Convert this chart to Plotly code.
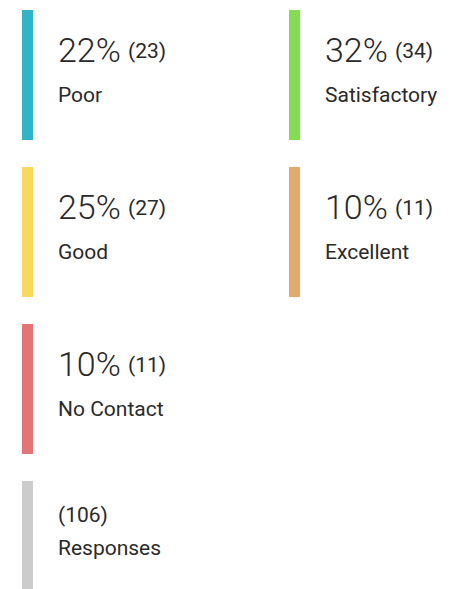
import plotly.graph_objects as go

# ---- data ----
categories = ["Poor", "Satisfactory", "Good", "Excellent", "No Contact"]
percentages = [22, 32, 25, 10, 10]
counts = [23, 34, 27, 11, 11]
colors = ["#31b3c8", "#80de4f", "#f8da5b", "#e6a96c", "#e67474"]
total_label = "Responses"
total_count = 106
total_color = "#cccccc"

# ---- layout constants (page-pixel data units) ----
W, H = 461, 589
PAGE_MARGIN = 8          # default body margin of the page
COL_X = [22, 289]        # left edge of the colour bar per column
ROW_STEP = 157
ROW_TOP0 = 10
BAR_W = 11
BAR_H = 130
TEXT_DX = 34
TEXT_COLOR = "#2a2a2a"
FONT = "Roboto, Arial, sans-serif"

fig = go.Figure()
annotations = []

def cell(i):
    return COL_X[i % 2], ROW_TOP0 + (i // 2) * ROW_STEP

for i, (cat, pct, cnt, col) in enumerate(zip(categories, percentages, counts, colors)):
    x0, top = cell(i)
    fig.add_trace(go.Bar(x=[x0 + BAR_W / 2], y=[BAR_H], base=[top], width=BAR_W,
                         marker=dict(color=col, line=dict(width=0)),
                         hoverinfo="skip", showlegend=False))
    tx = x0 + TEXT_DX
    annotations.append(dict(x=tx, y=top + 40, text=f"{pct}%", xanchor="left", yanchor="middle",
                            font=dict(family=FONT, size=34, color=TEXT_COLOR, weight=300)))
    annotations.append(dict(x=tx + 70, y=top + 41, text=f"({cnt})", xanchor="left", yanchor="middle",
                            font=dict(family=FONT, size=21, color=TEXT_COLOR)))
    annotations.append(dict(x=tx, y=top + 84.5, text=cat, xanchor="left", yanchor="middle",
                            font=dict(family=FONT, size=21, color=TEXT_COLOR)))

# total responses cell: its own row, first column
x0 = COL_X[0]
top = ROW_TOP0 + ((len(categories) + 1) // 2) * ROW_STEP
fig.add_trace(go.Bar(x=[x0 + BAR_W / 2], y=[BAR_H], base=[top], width=BAR_W,
                     marker=dict(color=total_color, line=dict(width=0)),
                     hoverinfo="skip", showlegend=False))
annotations.append(dict(x=x0 + TEXT_DX, y=top + 34, text=f"({total_count})", xanchor="left", yanchor="middle",
                        font=dict(family=FONT, size=21, color=TEXT_COLOR)))
annotations.append(dict(x=x0 + TEXT_DX, y=top + 66.5, text=total_label, xanchor="left", yanchor="middle",
                        font=dict(family=FONT, size=21, color=TEXT_COLOR)))

for a in annotations:
    a.update(xref="x", yref="y", showarrow=False)

fig.update_layout(
    width=W - PAGE_MARGIN, height=H - PAGE_MARGIN,
    margin=dict(l=0, r=0, t=0, b=0),
    paper_bgcolor="white", plot_bgcolor="white",
    xaxis=dict(range=[PAGE_MARGIN, W], visible=False, fixedrange=True),
    yaxis=dict(range=[H, PAGE_MARGIN], visible=False, fixedrange=True),
    annotations=annotations,
    barmode="overlay",
    bargap=0,
)

fig.write_html("out.html", config={"displayModeBar": False})
